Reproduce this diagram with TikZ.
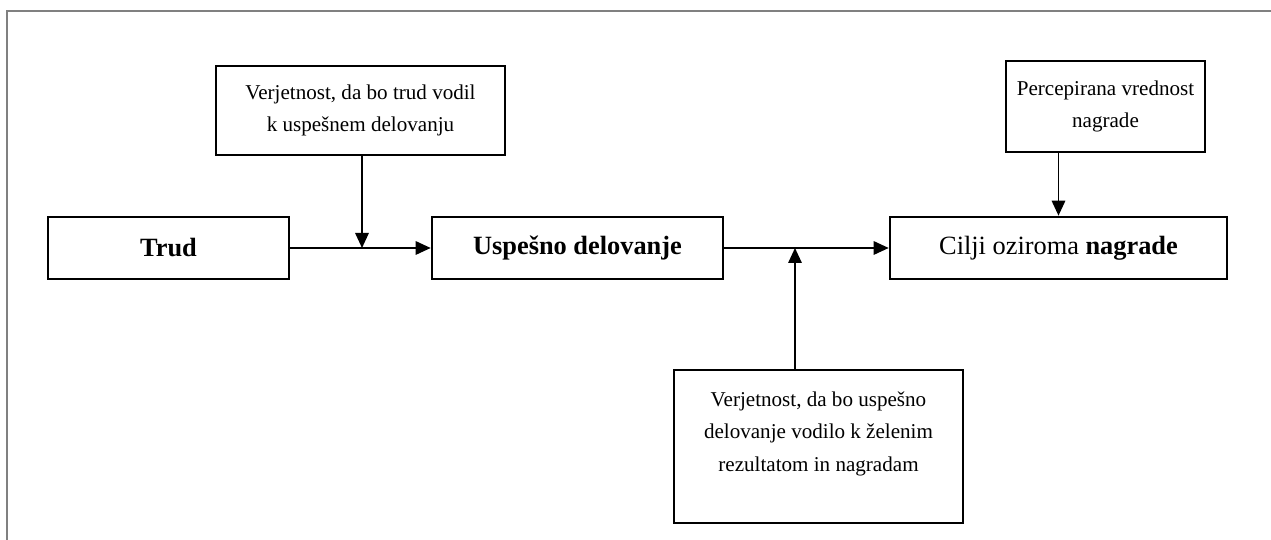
\documentclass[tikz,border=0pt]{standalone}
\usepackage{fontspec}
\setmainfont{Liberation Serif}
\usetikzlibrary{arrows.meta}

\tikzset{
  box/.style={draw, line width=1.5pt, align=center, inner sep=2pt},
  note/.style={box, font=\fontsize{12}{18.5}\selectfont},
  main/.style={box, font=\fontsize{15}{18}\selectfont},
  link/.style={line width=0.9pt, -{Triangle[length=0.3cm,width=0.27cm]}}
}

\begin{document}
\begin{tikzpicture}
                \useasboundingbox (0,0) rectangle (25.42,10.8);
                % Drawing frame
                \draw [line width=1.1pt, color=gray] (0.14,0) -- (0.14,10.58) -- (25.42,10.58);%

                % Drawing main boxes
                \node [main, minimum width=4.82cm, minimum height=1.24cm] (trud) at (3.37,5.84) {\textbf{Trud}};%
                \node [main, minimum width=5.82cm, minimum height=1.24cm] (uspeh) at (11.55,5.84) {\textbf{Uspešno delovanje}};%
                \node [main, minimum width=6.74cm, minimum height=1.24cm] (cilji) at (21.17,5.84) {Cilji oziroma \textbf{nagrade}};%

                % Drawing probability boxes
                \node [note, minimum width=5.78cm, minimum height=1.78cm] (verjet1) at (7.21,8.59) {Verjetnost, da bo trud vodil\\k uspešnem delovanju};%
                \node [note, minimum width=5.78cm, minimum height=3.06cm] (verjet2) at (16.37,1.87)
                  {\parbox[t][2.2cm][t]{5.5cm}{\centering Verjetnost, da bo uspešno\\delovanje vodilo k želenim\\rezultatom in nagradam}};%
                \node [note, minimum width=3.98cm, minimum height=1.82cm] (vrednost) at (22.11,8.67) {Percepirana vrednost\\nagrade};%

                % Drawing junctions
                \coordinate (j1) at (7.24,5.84);%
                \coordinate (j2) at (15.9,5.84);%

                % Drawing arrows
                \draw [link] (trud) -- (uspeh);%
                \draw [link] (uspeh) -- (cilji);%
                \draw [link] (verjet1.south -| j1) -- (j1);%
                \draw [link] (verjet2.north -| j2) -- (j2);%
                \draw [link] (vrednost.south -| cilji.north) -- (cilji.north);%
            \end{tikzpicture}
\end{document}
